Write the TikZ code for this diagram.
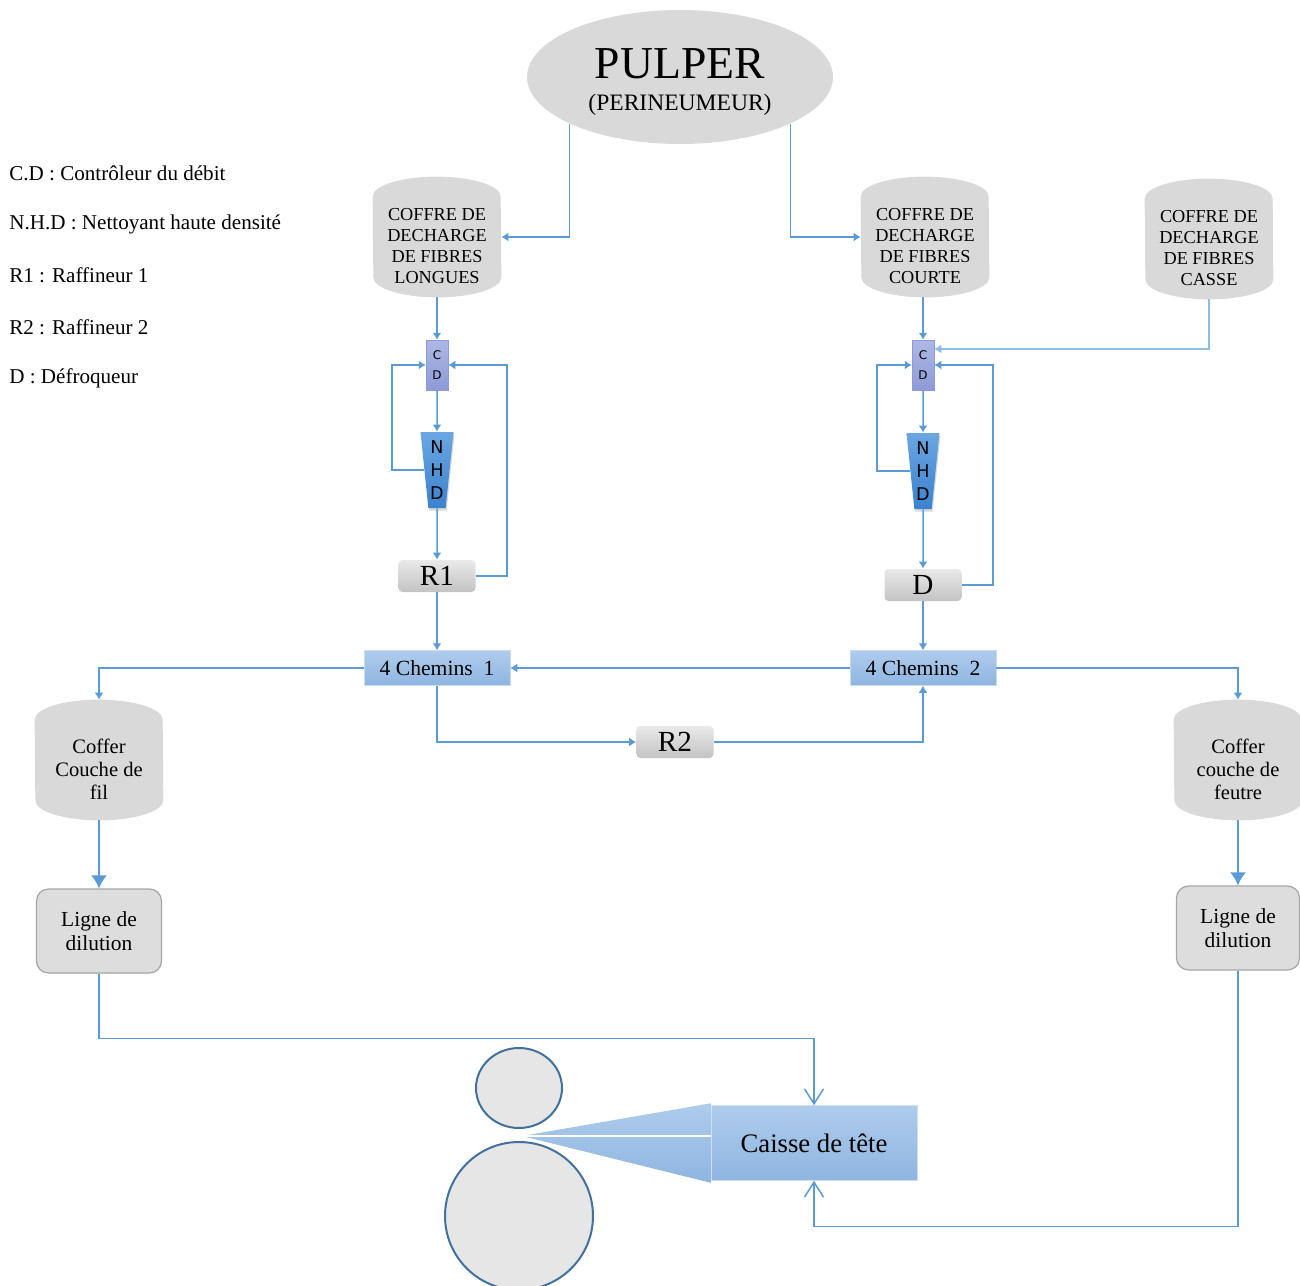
\documentclass[tikz,border=0pt]{standalone}
\usepackage{fontspec}
\setmainfont{Liberation Serif}
\newfontfamily\lettres{DejaVu Sans}
\usetikzlibrary{arrows.meta,positioning,shapes.geometric,shadows}

\definecolor{trait}{HTML}{5B9BD5}
\definecolor{traitclair}{HTML}{8DBCE6}
\definecolor{grisbaril}{HTML}{D9D9D9}
\definecolor{grishaut}{HTML}{E9E9E9}
\definecolor{grisbas}{HTML}{C3C3C3}
\definecolor{bleuhaut}{HTML}{AFCCEC}
\definecolor{bleubas}{HTML}{8EB5E1}
\definecolor{nhdhaut}{HTML}{6AA6E2}
\definecolor{nhdbas}{HTML}{3B82CE}
\definecolor{cdhaut}{HTML}{AEB8E5}
\definecolor{cdbas}{HTML}{8D9AD6}
\definecolor{rouleaufond}{HTML}{E7E6E6}
\definecolor{rouleaubord}{HTML}{41719C}

\def\pix{0.2mm}

% corps du coffre : cote droits, haut et bas bombes
\newcommand{\baril}[1]{%
  \fill[grisbaril] ([yshift=-20*\pix]#1.north west) arc[start angle=180,end angle=0,x radius=64,y radius=20]
    -- ([yshift=20*\pix]#1.south east) arc[start angle=0,end angle=-180,x radius=64,y radius=20] -- cycle;}

\tikzset{
  legende/.style={anchor=west, inner sep=0pt, font=\fontsize{12}{14}\selectfont},
  coffre/.style={minimum width=128*\pix, minimum height=120*\pix, inner sep=0pt},
  coffretexte/.style={align=center, inner sep=0pt, font=\fontsize{10.4}{12.1}\selectfont},
  coffertexte/.style={align=center, inner sep=0pt, font=\fontsize{11.7}{13.1}\selectfont},
  cd/.style={minimum width=22*\pix, minimum height=50*\pix, inner sep=0pt, align=center,
    top color=cdhaut, bottom color=cdbas, draw=cdbas, line width=0.1mm,
    font=\lettres\fontsize{6.8}{11.4}\selectfont},
  nhd/.style={trapezium, trapezium stretches=true, trapezium angle=84, shape border rotate=180,
    minimum width=33*\pix, minimum height=76*\pix, inner sep=0pt, align=center,
    top color=nhdhaut, bottom color=nhdbas, drop shadow={shadow xshift=0.2mm, shadow yshift=-0.5mm, opacity=0.3},
    font=\lettres\fontsize{10}{13}\selectfont},
  gbox/.style={rounded corners=4*\pix, minimum width=77*\pix, minimum height=32*\pix, inner sep=0pt,
    top color=grishaut, bottom color=grisbas, font=\fontsize{16.6}{18}\selectfont},
  chemin/.style={minimum width=146*\pix, minimum height=35*\pix, inner sep=0pt,
    top color=bleuhaut, bottom color=bleubas, draw=bleuhaut!70!white, line width=0.1mm,
    font=\fontsize{12.3}{14}\selectfont},
  dilution/.style={rounded corners=12*\pix, minimum height=84*\pix, inner sep=0pt, align=center,
    fill=grisbaril!90!white, draw=gray!70, line width=0.25mm, font=\fontsize{12.2}{13.7}\selectfont},
  rouleau/.style={fill=rouleaufond, draw=rouleaubord, line width=0.4mm, inner sep=0pt},
  fleche/.style={draw=trait, line width=0.3mm, -{Latex[length=1.4mm,width=1.8mm]}},
  grossefleche/.style={draw=trait, line width=0.4mm, -{Latex[length=2.6mm,width=3.2mm]}},
  ouverte/.style={draw=trait, line width=0.3mm, -{Straight Barb[length=3mm,width=3.8mm]}}
}

\begin{document}
\begin{tikzpicture}[x=0.2mm,y=0.2mm]
\useasboundingbox (0,0) rectangle (1300,-1286);

% legende
\node[legende] (lcd) at (9,-173) {C.D : Contrôleur du débit};
\node[legende] (lnhd) at (9,-224) {N.H.D : Nettoyant haute densité};
\node[legende] (lrA) at (9,-275) {R1 : Raffineur 1};
\node[legende] (lrB) at (9,-327) {R2 : Raffineur 2};
\node[legende] (ldefr) at (9,-378) {D : Défroqueur};

% pulper
\node[ellipse, fill=grisbaril, minimum width=306*\pix, minimum height=134*\pix, inner sep=0pt] (pulper) at (680,-77) {};
\node[inner sep=0pt, font=\fontsize{26}{28}\selectfont] (pulpernom) at (680,-64) {PULPER};
\node[inner sep=0pt, font=\fontsize{13.4}{15}\selectfont] (pulpersous) at (680,-105) {(PERINEUMEUR)};

% coffres de decharge
\node[coffre] (longues) at (437,-237) {};
\baril{longues}
\node[coffretexte] (longuesT) at ([yshift=-9*\pix]longues.center) {COFFRE DE\\DECHARGE\\DE FIBRES\\LONGUES};
\node[coffre] (courte) at (925,-237) {};
\baril{courte}
\node[coffretexte] (courteT) at ([yshift=-9*\pix]courte.center) {COFFRE DE\\DECHARGE\\DE FIBRES\\COURTE};
\node[coffre] (casse) at (1209,-239) {};
\baril{casse}
\node[coffretexte] (casseT) at ([yshift=-9*\pix]casse.center) {COFFRE DE\\DECHARGE\\DE FIBRES\\CASSE};

% ligne des fibres longues
\node[cd] (cdA) at (437,-365) {C\\D};
\node[nhd] (nhdA) at (437,-470) {N\\H\\D};
\node[gbox] (rA) at (437,-576) {R1};

% ligne des fibres courtes
\node[cd] (cdB) at (923,-365) {C\\D};
\node[nhd] (nhdB) at (923,-471) {N\\H\\D};
\node[gbox] (defr) at (923,-585) {D};

% 4 chemins et raffineur 2
\node[chemin] (chemA) at (437,-668) {4 Chemins\enspace1};
\node[chemin] (chemB) at (923,-668) {4 Chemins\enspace2};
\node[gbox] (rB) at (675,-742) {R2};

% coffres couche
\node[coffre] (fil) at (99,-760) {};
\baril{fil}
\node[coffertexte] (filT) at ([yshift=-9*\pix]fil.center) {Coffer\\Couche de\\fil};
\node[coffre] (feutre) at (1238,-760) {};
\baril{feutre}
\node[coffertexte] (feutreT) at ([yshift=-9*\pix]feutre.center) {Coffer\\couche de\\feutre};

% lignes de dilution
\node[dilution, minimum width=125*\pix] (dilA) at (99,-931) {Ligne de\\dilution};
\node[dilution, minimum width=123*\pix] (dilB) at (1238,-928) {Ligne de\\dilution};

% rouleaux et caisse de tete
\node[rouleau, ellipse, minimum width=86*\pix, minimum height=80*\pix] (rouleauA) at (519,-1088) {};
\node[rouleau, circle, minimum size=148*\pix] (rouleauB) at (519,-1216) {};
\node[minimum width=206*\pix, minimum height=75*\pix, inner sep=0pt, top color=bleuhaut, bottom color=bleubas,
  draw=bleuhaut!60!white, line width=0.1mm, font=\fontsize{15.2}{17}\selectfont] (caisse) at (814,-1143) {Caisse de tête};
\coordinate (bec) at (522,-1136);
\shade[top color=bleuhaut, bottom color=bleubas] ([yshift=2*\pix]caisse.north west) -- (bec) -- ([yshift=-2*\pix]caisse.south west) -- cycle;
\draw[white, line width=0.25mm] (bec) -- (bec -| caisse.west);

% connecteurs
\draw[fleche] (pulper.203) |- (longues.east);
\draw[fleche] (pulper.-23) |- (courte.west);
\draw[fleche] (longues.south) -- (cdA.north);
\draw[fleche] (cdA.south) -- (nhdA.north);
\draw[fleche] (nhdA.west) -- ++(-32,0) |- (cdA.west);
\draw[fleche] (nhdA.south) -- (rA.north);
\draw[fleche] (rA.east) -- ++(31,0) |- (cdA.east);
\draw[fleche] (rA.south) -- (chemA.north);
\draw[fleche] (courte.south -| cdB.north) -- (cdB.north);
\draw[fleche, draw=traitclair] (casse.south) |- ([yshift=16*\pix]cdB.east);
\draw[fleche] (cdB.south) -- (nhdB.north);
\draw[fleche] (nhdB.west) -- ++(-33,0) |- (cdB.west);
\draw[fleche] (nhdB.south) -- (defr.north);
\draw[fleche] (defr.east) -- ++(31,0) |- (cdB.east);
\draw[fleche] (defr.south) -- (chemB.north);
\draw[fleche] (chemB.west) -- (chemA.east);
\draw[fleche] (chemA.west) -| (fil.north);
\draw[fleche] (chemA.south) |- (rB.west);
\draw[fleche] (rB.east) -| (chemB.south);
\draw[fleche] (chemB.east) -| (feutre.north);
\draw[grossefleche] (fil.south) -- (dilA.north);
\draw[grossefleche] (feutre.south) -- (dilB.north);
\draw[ouverte] (dilA.south) -- ++(0,-65) -| (caisse.north);
\draw[ouverte] (dilB.south) -- ++(0,-256) -| (caisse.south);

\end{tikzpicture}
\end{document}
